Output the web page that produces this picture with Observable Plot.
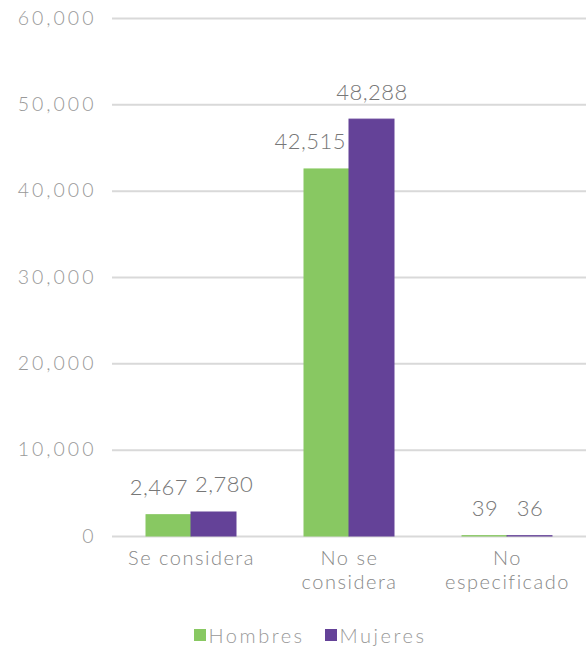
<!DOCTYPE html>
<html>
<head>
<meta charset="utf-8">
<script src="https://cdn.jsdelivr.net/npm/d3@7"></script>
<script src="https://cdn.jsdelivr.net/npm/@observablehq/plot@0.6"></script>
<style>
  body { margin: 0; background: #fff; font-family: Lato, "Open Sans", sans-serif; font-weight: 300; }
  #legend { display: flex; justify-content: center; align-items: center; gap: 20px; margin-top: 10px; padding-left: 34px; width: 552px; height: 30px; font-size: 20px; color: #999; font-weight: 300; letter-spacing: 2.5px; }
  #legend span.sw { display: inline-block; width: 12px; height: 12px; margin-right: 3px; }
  #legend .item { display: flex; align-items: center; }
  g[aria-label="y-axis tick label"] text { letter-spacing: 3px; }
  g[aria-label="fx-axis tick label"] text { letter-spacing: 1.5px; }
  g.values text { letter-spacing: 0.5px; }
</style>
</head>
<body>
<div id="chart"></div>
<div id="legend"></div>
<script>
const categories = ["Se considera", "No se considera", "No especificado"];
const categoryLabels = ["Se considera", "No se\nconsidera", "No\nespecificado"];
const series = ["Hombres", "Mujeres"];
const hombres = [2467, 42515, 39];
const mujeres = [2780, 48288, 36];
const yTicks = [0, 10000, 20000, 30000, 40000, 50000, 60000];
const colors = ["#88c862", "#644298"];

const data = [];
categories.forEach((c, i) => {
  data.push({cat: c, sex: "Hombres", value: hombres[i], other: mujeres[i]});
  data.push({cat: c, sex: "Mujeres", value: mujeres[i], other: hombres[i]});
});
const fmt = d3.format(",");
// label placement: wide labels are pushed apart when they would collide
data.forEach(d => {
  const wide = fmt(d.value).length > 2;
  if (!wide) d.anchor = "middle";
  else if (d.sex === "Hombres") d.anchor = d.other > d.value ? "end" : "middle";
  else d.anchor = d.other > d.value - 2400 ? "start" : "middle";
});

const font = "Lato, 'Open Sans', sans-serif";
const labelOpts = {fx: "cat", x: "sex", y: "value", text: d => fmt(d.value), lineAnchor: "bottom", dy: -20, fontSize: 22, fill: "#777", fontWeight: 300, className: "values"};
const chart = Plot.plot({
  width: 586,
  height: 610,
  marginLeft: 112,
  marginRight: 0,
  marginTop: 18,
  marginBottom: 74,
  style: {fontFamily: font, fontWeight: 300},
  fx: {domain: categories, padding: 0, label: null},
  x: {domain: series, paddingInner: 0, paddingOuter: 0.74, axis: null},
  y: {domain: [0, 60000], label: null},
  color: {domain: series, range: colors},
  marks: [
    Plot.ruleY(yTicks, {stroke: "#d9d9d9", strokeWidth: 2}),
    Plot.barY(data, {fx: "cat", x: "sex", y: "value", fill: "sex", stroke: "sex", strokeWidth: 1}),
    Plot.text(data.filter(d => d.anchor === "middle"), {...labelOpts}),
    Plot.text(data.filter(d => d.anchor === "end"), {...labelOpts, textAnchor: "end", dx: 19}),
    Plot.text(data.filter(d => d.anchor === "start"), {...labelOpts, textAnchor: "start", dx: -19}),
    Plot.axisY({ticks: yTicks, tickSize: 0, tickPadding: 16, tickFormat: fmt, fontSize: 19.5, fill: "#999", label: null}),
    Plot.axisFx({anchor: "bottom", tickSize: 0, tickPadding: 11, tickFormat: c => categoryLabels[categories.indexOf(c)], fontSize: 20, fill: "#888", lineHeight: 1.2, label: null})
  ]
});
document.getElementById("chart").appendChild(chart);

const legend = document.getElementById("legend");
series.forEach((s, i) => {
  const it = document.createElement("div");
  it.className = "item";
  it.innerHTML = `<span class="sw" style="background:${colors[i]}"></span>${s}`;
  legend.appendChild(it);
});
</script>
</body>
</html>
